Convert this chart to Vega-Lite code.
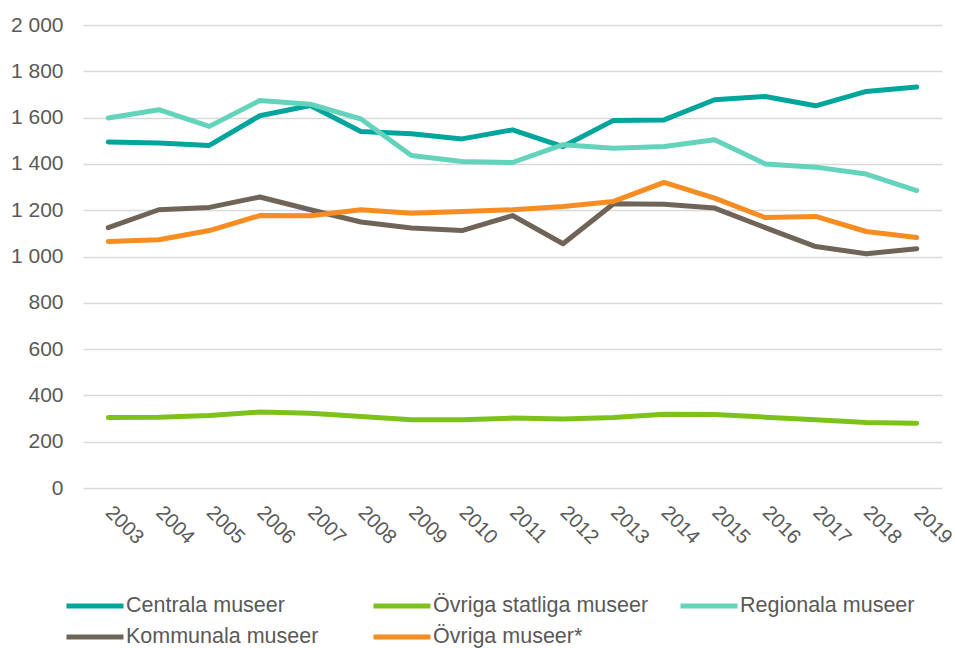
{
  "$schema": "https://vega.github.io/schema/vega-lite/v6.json",
  "width": 859,
  "height": 463,
  "autosize": {"type": "none"},
  "padding": {"left": 83, "top": 25, "right": 13, "bottom": 160},
  "background": "white",
  "config": {
    "view": {"stroke": null},
    "font": "Liberation Sans",
    "axis": {"labelFont": "Liberation Sans", "labelColor": "#595959", "labelFontSize": 21}
  },
  "data": {
    "values": [
      {"year": "2003", "series": "Centrala museer", "value": 1495},
      {"year": "2004", "series": "Centrala museer", "value": 1490},
      {"year": "2005", "series": "Centrala museer", "value": 1480},
      {"year": "2006", "series": "Centrala museer", "value": 1608},
      {"year": "2007", "series": "Centrala museer", "value": 1652},
      {"year": "2008", "series": "Centrala museer", "value": 1540},
      {"year": "2009", "series": "Centrala museer", "value": 1530},
      {"year": "2010", "series": "Centrala museer", "value": 1508},
      {"year": "2011", "series": "Centrala museer", "value": 1547},
      {"year": "2012", "series": "Centrala museer", "value": 1475},
      {"year": "2013", "series": "Centrala museer", "value": 1588},
      {"year": "2014", "series": "Centrala museer", "value": 1590},
      {"year": "2015", "series": "Centrala museer", "value": 1677},
      {"year": "2016", "series": "Centrala museer", "value": 1691},
      {"year": "2017", "series": "Centrala museer", "value": 1651},
      {"year": "2018", "series": "Centrala museer", "value": 1713},
      {"year": "2019", "series": "Centrala museer", "value": 1732},
      {"year": "2003", "series": "Övriga statliga museer", "value": 305},
      {"year": "2004", "series": "Övriga statliga museer", "value": 306},
      {"year": "2005", "series": "Övriga statliga museer", "value": 313},
      {"year": "2006", "series": "Övriga statliga museer", "value": 328},
      {"year": "2007", "series": "Övriga statliga museer", "value": 323},
      {"year": "2008", "series": "Övriga statliga museer", "value": 309},
      {"year": "2009", "series": "Övriga statliga museer", "value": 295},
      {"year": "2010", "series": "Övriga statliga museer", "value": 295},
      {"year": "2011", "series": "Övriga statliga museer", "value": 302},
      {"year": "2012", "series": "Övriga statliga museer", "value": 298},
      {"year": "2013", "series": "Övriga statliga museer", "value": 305},
      {"year": "2014", "series": "Övriga statliga museer", "value": 319},
      {"year": "2015", "series": "Övriga statliga museer", "value": 317},
      {"year": "2016", "series": "Övriga statliga museer", "value": 306},
      {"year": "2017", "series": "Övriga statliga museer", "value": 295},
      {"year": "2018", "series": "Övriga statliga museer", "value": 283},
      {"year": "2019", "series": "Övriga statliga museer", "value": 280},
      {"year": "2003", "series": "Regionala museer", "value": 1598},
      {"year": "2004", "series": "Regionala museer", "value": 1634},
      {"year": "2005", "series": "Regionala museer", "value": 1562},
      {"year": "2006", "series": "Regionala museer", "value": 1674},
      {"year": "2007", "series": "Regionala museer", "value": 1658},
      {"year": "2008", "series": "Regionala museer", "value": 1594},
      {"year": "2009", "series": "Regionala museer", "value": 1436},
      {"year": "2010", "series": "Regionala museer", "value": 1410},
      {"year": "2011", "series": "Regionala museer", "value": 1406},
      {"year": "2012", "series": "Regionala museer", "value": 1483},
      {"year": "2013", "series": "Regionala museer", "value": 1468},
      {"year": "2014", "series": "Regionala museer", "value": 1475},
      {"year": "2015", "series": "Regionala museer", "value": 1504},
      {"year": "2016", "series": "Regionala museer", "value": 1400},
      {"year": "2017", "series": "Regionala museer", "value": 1386},
      {"year": "2018", "series": "Regionala museer", "value": 1356},
      {"year": "2019", "series": "Regionala museer", "value": 1285},
      {"year": "2003", "series": "Kommunala museer", "value": 1125},
      {"year": "2004", "series": "Kommunala museer", "value": 1202},
      {"year": "2005", "series": "Kommunala museer", "value": 1212},
      {"year": "2006", "series": "Kommunala museer", "value": 1257},
      {"year": "2007", "series": "Kommunala museer", "value": 1202},
      {"year": "2008", "series": "Kommunala museer", "value": 1149},
      {"year": "2009", "series": "Kommunala museer", "value": 1123},
      {"year": "2010", "series": "Kommunala museer", "value": 1112},
      {"year": "2011", "series": "Kommunala museer", "value": 1177},
      {"year": "2012", "series": "Kommunala museer", "value": 1055},
      {"year": "2013", "series": "Kommunala museer", "value": 1228},
      {"year": "2014", "series": "Kommunala museer", "value": 1226},
      {"year": "2015", "series": "Kommunala museer", "value": 1209},
      {"year": "2016", "series": "Kommunala museer", "value": 1125},
      {"year": "2017", "series": "Kommunala museer", "value": 1043},
      {"year": "2018", "series": "Kommunala museer", "value": 1012},
      {"year": "2019", "series": "Kommunala museer", "value": 1033},
      {"year": "2003", "series": "Övriga museer*", "value": 1065},
      {"year": "2004", "series": "Övriga museer*", "value": 1072},
      {"year": "2005", "series": "Övriga museer*", "value": 1112},
      {"year": "2006", "series": "Övriga museer*", "value": 1177},
      {"year": "2007", "series": "Övriga museer*", "value": 1176},
      {"year": "2008", "series": "Övriga museer*", "value": 1202},
      {"year": "2009", "series": "Övriga museer*", "value": 1187},
      {"year": "2010", "series": "Övriga museer*", "value": 1194},
      {"year": "2011", "series": "Övriga museer*", "value": 1202},
      {"year": "2012", "series": "Övriga museer*", "value": 1216},
      {"year": "2013", "series": "Övriga museer*", "value": 1238},
      {"year": "2014", "series": "Övriga museer*", "value": 1320},
      {"year": "2015", "series": "Övriga museer*", "value": 1252},
      {"year": "2016", "series": "Övriga museer*", "value": 1168},
      {"year": "2017", "series": "Övriga museer*", "value": 1173},
      {"year": "2018", "series": "Övriga museer*", "value": 1108},
      {"year": "2019", "series": "Övriga museer*", "value": 1082}
    ]
  },
  "mark": {"type": "line", "strokeWidth": 5, "strokeCap": "round", "strokeJoin": "round"},
  "encoding": {
    "x": {
      "field": "year",
      "type": "ordinal",
      "scale": {"type": "point", "padding": 0.5},
      "axis": {
        "title": null,
        "labelAngle": 45,
        "labelAlign": "left",
        "labelBaseline": "middle",
        "labelPadding": 21,
        "labelFontSize": 20,
        "ticks": false,
        "domain": false,
        "grid": false
      }
    },
    "y": {
      "field": "value",
      "type": "quantitative",
      "scale": {"domain": [0, 2000], "nice": false},
      "axis": {
        "title": null,
        "values": [0, 200, 400, 600, 800, 1000, 1200, 1400, 1600, 1800, 2000],
        "labelExpr": "replace(format(datum.value, ','), ',', ' ')",
        "ticks": false,
        "domain": false,
        "labelPadding": 20,
        "grid": true,
        "gridColor": "#D9D9D9",
        "gridWidth": 1.5
      }
    },
    "color": {
      "field": "series",
      "type": "nominal",
      "sort": null,
      "scale": {
        "domain": ["Centrala museer", "Övriga statliga museer", "Regionala museer", "Kommunala museer", "Övriga museer*"],
        "range": ["#00A59B", "#7DC21B", "#64D3BC", "#6F6457", "#F58D22"]
      },
      "legend": {
        "title": null,
        "orient": "none",
        "legendX": -19,
        "legendY": 570,
        "direction": "horizontal",
        "columns": 3,
        "gridAlign": "all",
        "columnPadding": 29,
        "rowPadding": 9,
        "clipHeight": 22,
        "symbolType": "stroke",
        "symbolSize": 3249,
        "symbolStrokeWidth": 5,
        "labelOffset": 0,
        "labelFont": "Liberation Sans",
        "labelFontSize": 21.5,
        "labelColor": "#595959",
        "labelLimit": 400
      }
    }
  }
}
